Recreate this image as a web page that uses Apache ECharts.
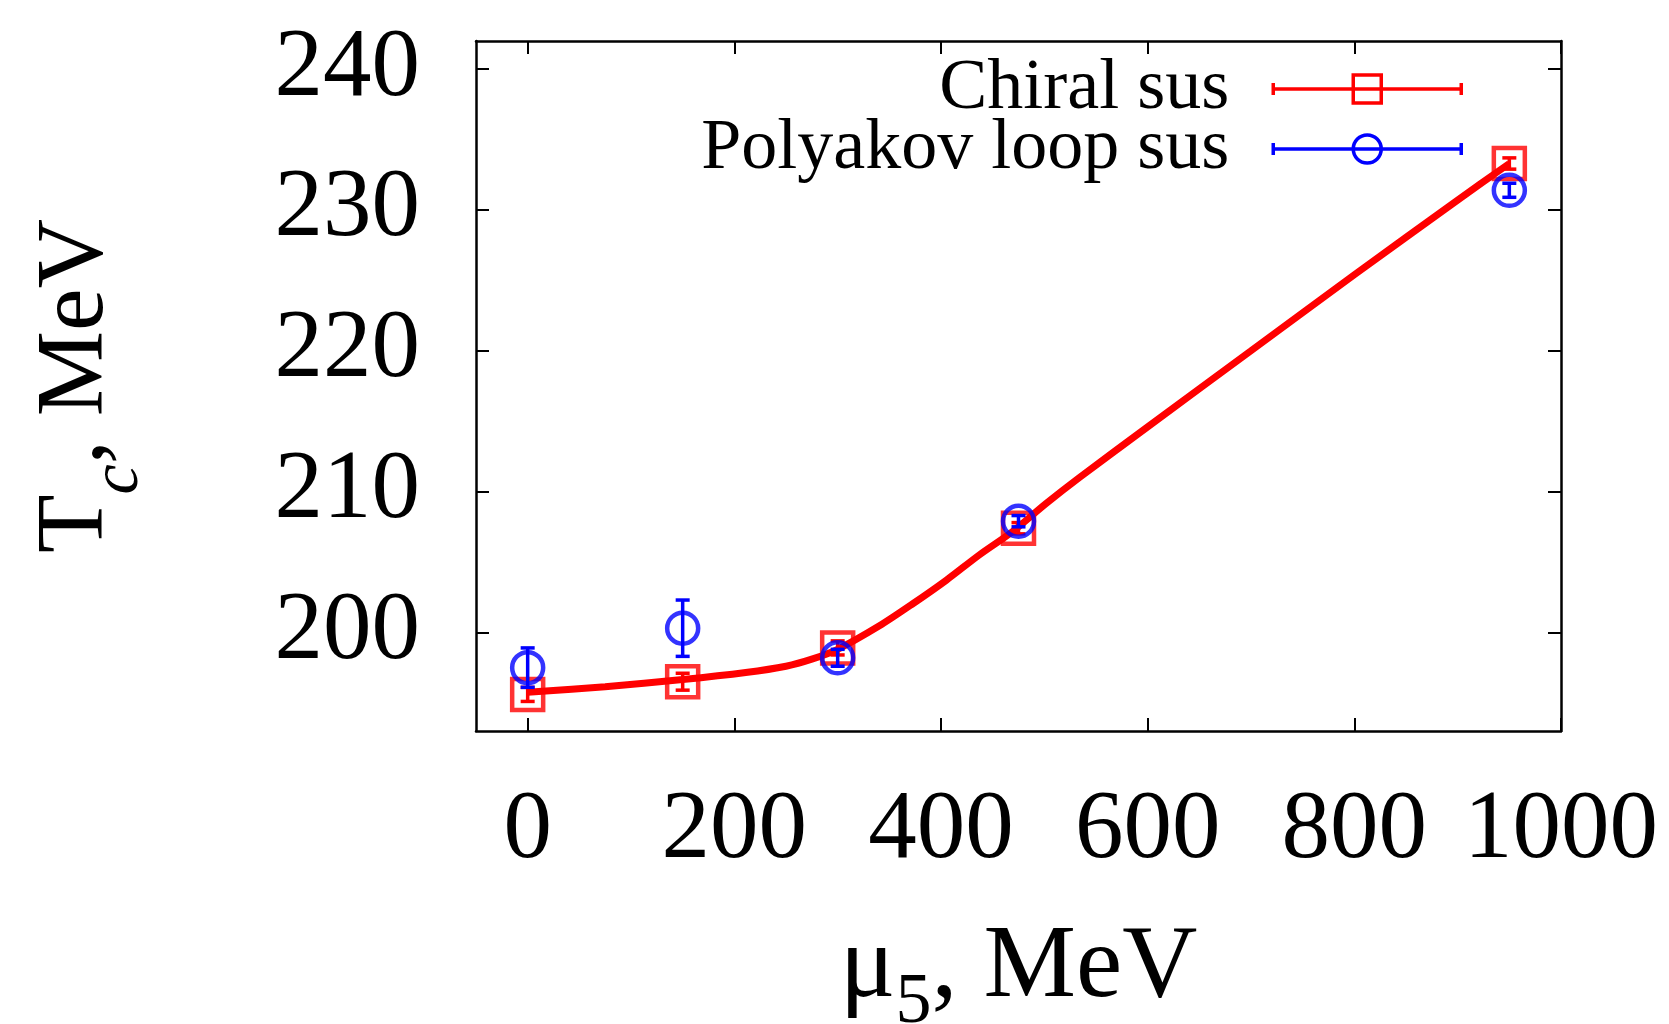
<!DOCTYPE html>
<html>
<head>
<meta charset="utf-8">
<script src="https://cdn.jsdelivr.net/npm/echarts@6/dist/echarts.min.js"></script>
<style>
  html, body { margin: 0; padding: 0; background: #fff; }
  #chart { width: 1669px; height: 1024px; }
</style>
</head>
<body>
<div id="chart"></div>
<script>
// mu5 values, MeV
const mu5 = [0, 150, 300, 475, 950];
// critical temperature from chiral susceptibility
const chiralTc = [195.6, 196.5, 198.9, 207.4, 233.3];
const chiralErr = [0.5, 0.6, 0.5, 0.4, 0.4];
// critical temperature from Polyakov loop susceptibility
const polyTc = [197.5, 200.3, 198.2, 207.9, 231.4];
const polyErr = [1.4, 2.0, 0.6, 0.4, 0.5];
// red fit curve
const fitX = [0, 75, 150, 211, 250, 275, 300, 340, 372, 405, 437, 469, 502, 534, 600, 700, 800, 900, 950];
const fitY = [195.75, 196.15, 196.65, 197.15, 197.6, 198.1, 198.8, 200.45, 202.0, 203.7, 205.5, 207.15, 209.17, 211.0, 214.6, 220.0, 225.4, 230.7, 233.3];
// tick labels
const xTicks = [0, 200, 400, 600, 800, 1000];
const yTicks = [200, 210, 220, 230, 240];

const FONT = "Liberation Serif";
const chart = echarts.init(document.getElementById("chart"));

function errBars(color) {
  return function (params, api) {
    const x = api.value(0);
    const lo = api.coord([x, api.value(1)]);
    const hi = api.coord([x, api.value(2)]);
    const w = 7;
    const st = { stroke: color, lineWidth: 3.5 };
    return {
      type: "group",
      children: [
        { type: "line", shape: { x1: lo[0], y1: lo[1], x2: hi[0], y2: hi[1] }, style: st },
        { type: "line", shape: { x1: lo[0] - w, y1: lo[1], x2: lo[0] + w, y2: lo[1] }, style: st },
        { type: "line", shape: { x1: hi[0] - w, y1: hi[1], x2: hi[0] + w, y2: hi[1] }, style: st }
      ]
    };
  };
}

const axisLine = { show: true, onZero: false, lineStyle: { color: "#000", width: 2.5 } };
const tick = (vals) => ({ show: true, inside: true, length: 13, customValues: vals, lineStyle: { color: "#000", width: 2 } });

let option = {
  animation: false,
  backgroundColor: "#fff",
  grid: { left: 476, right: 108, top: 41, bottom: 293, containLabel: false, outerBoundsMode: "none" },
  legend: {
    orient: "vertical",
    right: 200,
    top: 48,
    align: "right",
    itemWidth: 190,
    itemHeight: 28,
    itemGap: -12,
    selectedMode: false,
    textStyle: { fontFamily: FONT, fontSize: 72, lineHeight: 60, color: "#000", padding: [0, 38, 0, 0] },
    data: [
      {
        name: "Chiral sus",
        icon: "path://M0,14 L190,14 M1,8 L1,20 M189,8 L189,20 M81,0 L109,0 L109,28 L81,28 Z",
        itemStyle: { color: "rgba(0,0,0,0)", borderColor: "#ff0000", borderWidth: 3.5 }
      },
      {
        name: "Polyakov loop sus",
        icon: "path://M0,14 L190,14 M1,8 L1,20 M189,8 L189,20 M95,0 A14,14 0 1 1 95,28 A14,14 0 1 1 95,0 Z",
        itemStyle: { color: "rgba(0,0,0,0)", borderColor: "#0000ff", borderWidth: 3.5 }
      }
    ]
  },
  xAxis: [
    {
      type: "value",
      min: -50,
      max: 1000,
      position: "bottom",
      axisLine: axisLine,
      axisTick: tick(xTicks),
      splitLine: { show: false },
      axisLabel: { customValues: xTicks, formatter: (v) => String(v), margin: 52, fontFamily: FONT, fontSize: 97, color: "#000" },
      name: "{a|μ}{s|5}{a|, MeV}",
      nameLocation: "middle",
      nameGap: 186,
      nameTextStyle: {
        rich: {
          a: { fontFamily: FONT, fontSize: 104, color: "#000" },
          s: { fontFamily: FONT, fontSize: 72, color: "#000", verticalAlign: "bottom", padding: [0, 0, -18, 0] }
        }
      }
    },
    {
      type: "value",
      min: -50,
      max: 1000,
      position: "top",
      axisLine: axisLine,
      axisTick: tick(xTicks),
      splitLine: { show: false },
      axisLabel: { show: false }
    }
  ],
  yAxis: [
    {
      type: "value",
      min: 193,
      max: 242,
      position: "left",
      axisLine: axisLine,
      axisTick: tick(yTicks),
      splitLine: { show: false },
      axisLabel: { customValues: yTicks, margin: 56, fontFamily: FONT, fontSize: 97, color: "#000" },
      name: "{a|T}{s|c}{a|, MeV}",
      nameLocation: "middle",
      nameRotate: 90,
      nameGap: 351,
      nameTextStyle: {
        rich: {
          a: { fontFamily: FONT, fontSize: 96, color: "#000" },
          s: { fontFamily: FONT, fontSize: 68, fontStyle: "italic", color: "#000", verticalAlign: "bottom", padding: [0, 0, -28, 0] }
        }
      }
    },
    {
      type: "value",
      min: 193,
      max: 242,
      position: "right",
      axisLine: axisLine,
      axisTick: tick(yTicks),
      splitLine: { show: false },
      axisLabel: { show: false }
    }
  ],
  series: [
    {
      name: "fit",
      type: "line",
      data: fitX.map((x, i) => [x, fitY[i]]),
      smooth: 0.3,
      showSymbol: false,
      lineStyle: { color: "#ff0000", width: 7 },
      z: 1
    },
    {
      name: "Chiral sus",
      type: "custom",
      renderItem: errBars("#ff0000"),
      data: mu5.map((x, i) => [x, chiralTc[i] - chiralErr[i], chiralTc[i] + chiralErr[i]]),
      z: 2
    },
    {
      name: "Chiral sus",
      type: "scatter",
      symbol: "rect",
      symbolSize: 31,
      itemStyle: { color: "rgba(0,0,0,0)", borderColor: "#ff0000", borderWidth: 4.5 },
      data: mu5.map((x, i) => [x, chiralTc[i]]),
      z: 3
    },
    {
      name: "Polyakov loop sus",
      type: "custom",
      renderItem: errBars("#0000ff"),
      data: mu5.map((x, i) => [x, polyTc[i] - polyErr[i], polyTc[i] + polyErr[i]]),
      z: 4
    },
    {
      name: "Polyakov loop sus",
      type: "scatter",
      symbol: "circle",
      symbolSize: 31,
      itemStyle: { color: "rgba(0,0,0,0)", borderColor: "#0000ff", borderWidth: 4.5 },
      data: mu5.map((x, i) => [x, polyTc[i]]),
      z: 5
    }
  ]
};
chart.setOption(option);
</script>
</body>
</html>
